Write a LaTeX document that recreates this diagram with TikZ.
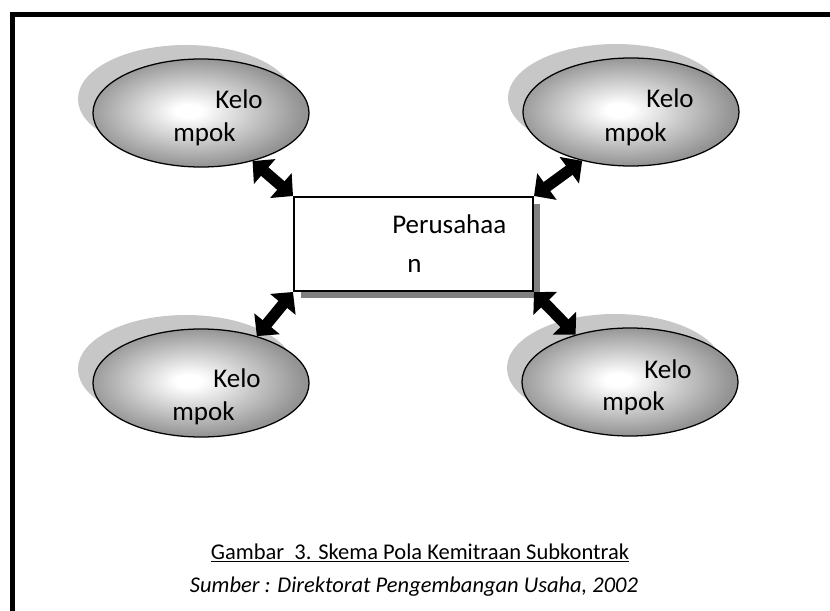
\documentclass[tikz,border=0pt]{standalone}
\usepackage{fontspec}
\setmainfont{Carlito}
\usetikzlibrary{arrows.meta,shapes.geometric,shadows}

\pgfdeclareradialshading{kelo}{\pgfpoint{-3bp}{1bp}}{color(0bp)=(white); color(3bp)=(white); color(25bp)=(black!42); color(50bp)=(black!50)}

\tikzset{
  kelompok/.style={ellipse, draw, line width=0.9pt, minimum width=5.4cm, minimum height=2.7cm, shading=kelo},
  bayang/.style={fill=black!22},
  usaha/.style={rectangle, draw, line width=1.4pt, fill=white, minimum width=5.975cm, minimum height=2.35cm,
    drop shadow={shadow xshift=0.175cm, shadow yshift=-0.175cm, fill=black!50, opacity=1}},
  isi/.style={anchor=base west, inner sep=0pt, font=\fontsize{19.2}{23}\selectfont},
  mitra/.style={line width=8pt, {Triangle[width=0.8cm,length=0.4cm]}-{Triangle[width=0.8cm,length=0.4cm]}},
  judul/.style={anchor=base, inner sep=0pt, font=\fontsize{16}{19}\selectfont},
}

\begin{document}
\begin{tikzpicture}[x=0.025cm,y=-0.025cm]
            \useasboundingbox (0,0) rectangle (830,611);
            \clip (0,0) rectangle (830,611);

            % Drawing frame
            \draw [line width=3.5pt] (12.5,14.5) rectangle (900,700);%

            % Drawing shadows of ellipses
            \fill [bayang] (186,99) ellipse [x radius=2.7cm, y radius=1.35cm];%
            \fill [bayang] (616,98) ellipse [x radius=2.7cm, y radius=1.35cm];%
            \fill [bayang] (186,369) ellipse [x radius=2.7cm, y radius=1.35cm];%
            \fill [bayang] (615,368) ellipse [x radius=2.7cm, y radius=1.35cm];%

            % Drawing ellipses Kelompok
            \node [kelompok] (kTL) at (201,113) {};%
            \node [kelompok] (kTR) at (631,112) {};%
            \node [kelompok] (kBL) at (201,383) {};%
            \node [kelompok] (kBR) at (630,382) {};%

            % Drawing box Perusahaan
            \node [usaha] (prs) at (413.5,244) {};%

            % Writing texts
            \node [isi] (tTL1) at (215,109) {Kelo};%
            \node [isi] (tTL2) at (173,142) {mpok};%
            \node [isi] (tTR1) at (646,108) {Kelo};%
            \node [isi] (tTR2) at (604,141) {mpok};%
            \node [isi] (tBL1) at (213,387) {Kelo};%
            \node [isi] (tBL2) at (172,420) {mpok};%
            \node [isi] (tBR1) at (644,378) {Kelo};%
            \node [isi] (tBR2) at (602,410) {mpok};%
            \node [isi] (tP1) at (392,233) {Perusahaa};%
            \node [isi] (tP2) at (407,272) {n};%

            % Drawing double arrows
            \draw [mitra] (kTL.-43) -- (prs.north west);%
            \draw [mitra] (kTR.225) -- (prs.north east);%
            \draw [mitra] (kBL.40) -- (prs.south west);%
            \draw [mitra] (kBR.139) -- (prs.south east);%

            % Writing caption
            \node [judul] (cap) at (420,559) {\underline{Gambar\ \ 3. Skema Pola Kemitraan Subkontrak}};%
            \node [judul] (src) at (414,592) {\itshape Sumber : Direktorat Pengembangan Usaha, 2002};%
\end{tikzpicture}
\end{document}
